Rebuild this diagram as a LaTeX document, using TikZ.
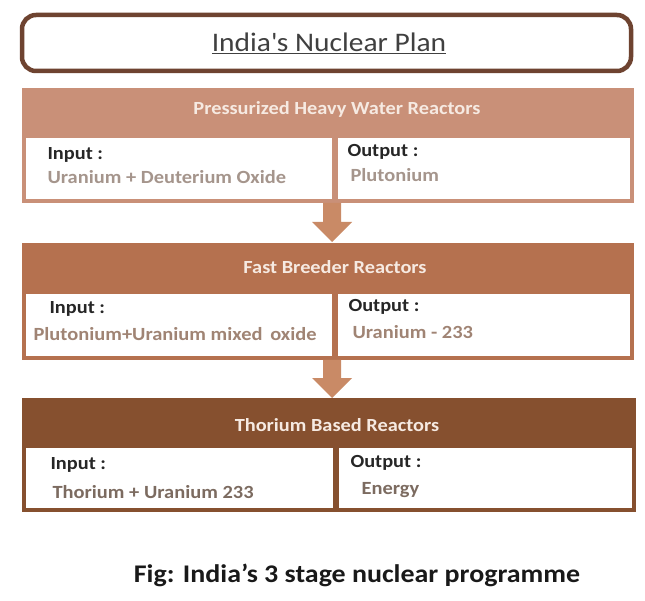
\documentclass[tikz,border=0pt]{standalone}
\usepackage{fontspec}
\setmainfont{Carlito}[FakeStretch=1.1]
\definecolor{titlebrown}{HTML}{6E4330}
\definecolor{hdrA}{HTML}{C99078}
\definecolor{hdrB}{HTML}{B5714F}
\definecolor{hdrC}{HTML}{86502F}
\definecolor{arrowc}{HTML}{C98A66}
\definecolor{valA}{HTML}{A5958C}
\definecolor{valB}{HTML}{A08474}
\definecolor{valC}{HTML}{7C6B60}
\definecolor{hdrtext}{HTML}{F6EAE2}
\tikzset{
  px/.style={x=1pt,y=-1pt},
  lbl/.style={anchor=west,font=\bfseries\fontsize{18.5}{20}\selectfont,text=black!85},
  val/.style={anchor=west,font=\bfseries\fontsize{18.6}{20}\selectfont},
  hdr/.style={font=\bfseries\fontsize{18.5}{20}\selectfont,text=hdrtext},
  cell/.style={fill=white,draw=none},
  bigarrow/.style={fill=arrowc,draw=none}
}
\begin{document}
\begin{tikzpicture}[px]
\useasboundingbox[fill=white] (0,0) rectangle (645,601);
% title
\draw[titlebrown,line width=4.5pt,rounded corners=14pt] (22,15) rectangle (631,71);
\node[font=\fontsize{26.8}{30}\selectfont,text=black!75] (title) at (329,43) {\underline{India\textquotesingle s Nuclear Plan}};

% stage 1
\fill[hdrA] (22,88) rectangle (634,203);
\fill[cell] (26,138) rectangle (332,199);
\fill[cell] (338,138) rectangle (630,199);
\node[hdr] (h1) at (337,109) {Pressurized Heavy Water Reactors};
\node[lbl] (i1) at (44,155) {Input :};
\node[val,text=valA] (iv1) at (44,177) {Uranium + Deuterium Oxide};
\node[lbl] (o1) at (344,152) {Output :};
\node[val,text=valA] (ov1) at (347,175) {Plutonium};

% stage 2
\fill[hdrB] (22,243) rectangle (634,360);
\fill[cell] (26,294) rectangle (332,356);
\fill[cell] (338,294) rectangle (630,356);
\node[hdr] (h2) at (335,267) {Fast Breeder Reactors};
\node[lbl] (i2) at (46,309) {Input :};
\node[val,text=valB] (iv2) at (30,334) {Plutonium+Uranium mixed\, oxide};
\node[lbl] (o2) at (345,307) {Output :};
\node[val,text=valB] (ov2) at (349,332) {Uranium - 233};

% stage 3
\fill[hdrC] (22,398) rectangle (636,512);
\fill[cell] (26,448) rectangle (333,508);
\fill[cell] (339,448) rectangle (632,508);
\node[hdr] (h3) at (337,425) {Thorium Based Reactors};
\node[lbl] (i3) at (47,465) {Input :};
\node[val,text=valC] (iv3) at (49,492) {Thorium + Uranium 233};
\node[lbl] (o3) at (347,463) {Output :};
\node[val,text=valC] (ov3) at (358,490) {Energy};

% arrows
\coordinate (a1) at (323,203);
\coordinate (a2) at (323,360);
\fill[bigarrow] (a1) -- ++(0,19) -- ++(-11,0) -- ++(20,20) -- ++(20,-20) -- ++(-11,0) -- ++(0,-19) -- cycle;
\fill[bigarrow] (a2) -- ++(0,18) -- ++(-11,0) -- ++(20,20) -- ++(20,-20) -- ++(-11,0) -- ++(0,-18) -- cycle;

% caption
\node[font=\bfseries\fontsize{25.4}{28}\selectfont,text=black!90] (cap) at (357,575) {Fig: India’s 3 stage nuclear programme};
\end{tikzpicture}
\end{document}
